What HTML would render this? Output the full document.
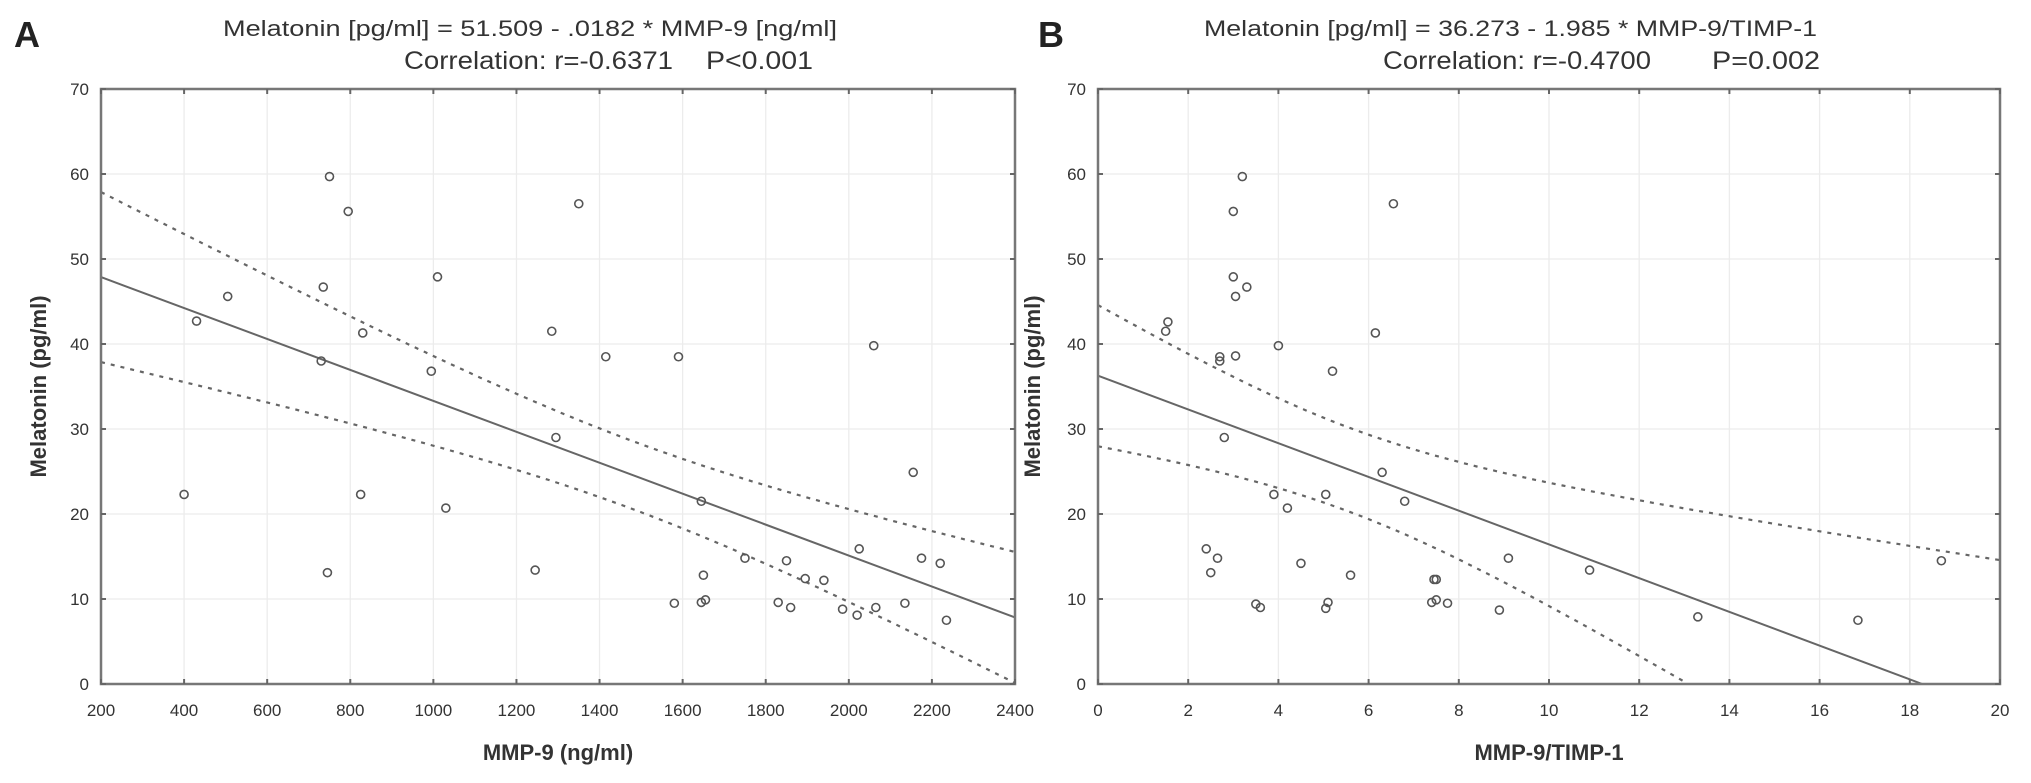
<!DOCTYPE html>
<html><head><meta charset="utf-8"><style>
html,body{margin:0;padding:0;background:#fff;}
svg{display:block;font-family:"Liberation Sans",Arial,sans-serif;}
</style></head><body>
<svg id="chart" width="2031" height="783" viewBox="0 0 2031 783">
<g id="pa"></g>
<g id="pb"></g>
</svg>
<script>
// Panel A data
const aX = [400,430,505,730,735,745,750,795,825,830,995,1010,1030,1245,1285,1295,1350,1415,1580,1590,1645,1645,1650,1655,1750,1830,1850,1860,1895,1940,1985,2020,2025,2060,2065,2135,2155,2175,2220,2235];
const aY = [22.3,42.7,45.6,38,46.7,13.1,59.7,55.6,22.3,41.3,36.8,47.9,20.7,13.4,41.5,29,56.5,38.5,9.5,38.5,9.6,21.5,12.8,9.9,14.8,9.6,14.5,9,12.4,12.2,8.8,8.1,15.9,39.8,9,9.5,24.9,14.8,14.2,7.5];
const aFit = [51.509, -0.0182];
const aBand = [16, 5.13e-5, 1480]; // a, b, mean for CI half-width
const aXTicks = [200,400,600,800,1000,1200,1400,1600,1800,2000,2200,2400];
const yTicks = [0,10,20,30,40,50,60,70];
// Panel B data
const bX = [1.5,1.55,2.4,2.5,2.65,2.7,2.7,2.8,3.0,3.05,3.0,3.05,3.2,3.3,3.5,3.6,3.9,4.0,4.2,4.5,5.05,5.05,5.1,5.2,5.6,6.15,6.3,6.55,6.8,7.4,7.45,7.5,7.5,7.75,8.9,9.1,10.9,13.3,16.85,18.7];
const bY = [41.5,42.6,15.9,13.1,14.8,38,38.5,29,47.9,45.6,55.6,38.6,59.7,46.7,9.4,9,22.3,39.8,20.7,14.2,22.3,8.9,9.6,36.8,12.8,41.3,24.9,56.5,21.5,9.6,12.3,12.3,9.9,9.5,8.7,14.8,13.4,7.9,7.5,14.5];
const bFit = [36.273, -1.985];
const bBand = [24.4, 1.439, 5.57];
const bXTicks = [0,2,4,6,8,10,12,14,16,18,20];

const NS = "http://www.w3.org/2000/svg";
function mk(parent, tag, attrs, text){
  const e = document.createElementNS(NS, tag);
  for (const k in attrs) e.setAttribute(k, attrs[k]);
  if (text !== undefined) e.textContent = text;
  parent.appendChild(e);
  return e;
}
function panel(g, o){
  const L=o.left, R=o.right, T=89, B=684;
  const sx = v => L + (v - o.xmin)/(o.xmax - o.xmin)*(R-L);
  const sy = v => B - v/70*(B-T);
  o.xt.forEach(v=>{
    const l = mk(g,'line',{x1:sx(v),x2:sx(v),y1:T,y2:B,stroke:'#ececec','stroke-width':1.3});
    
    
  });
  yTicks.forEach(v=>{
    const l = mk(g,'line',{x1:L,x2:R,y1:sy(v),y2:sy(v),stroke:'#ececec','stroke-width':1.3});
    
    
  });
  const h = x => Math.sqrt(o.band[0] + o.band[1]*(x-o.band[2])**2);
  const fit = x => o.fit[0] + o.fit[1]*x;
  [1,-1].forEach(sg=>{
    let d='';
    for(let i=0;i<=200;i++){
      const x = o.xmin + (o.xmax-o.xmin)*i/200;
      const y = fit(x) + sg*h(x);
      if (y < 0) break;
      d += (d?'L':'M') + sx(x).toFixed(1)+','+sy(y).toFixed(1);
    }
    const p = mk(g,'path',{d:d,fill:'none',stroke:'#666','stroke-width':2.2,'stroke-dasharray':'4,6'});
    
    
  });
  let x2 = o.xmax;
  if (fit(x2) < 0) x2 = -o.fit[0]/o.fit[1];
  const rl = mk(g,'line',{x1:sx(o.xmin),y1:sy(fit(o.xmin)),x2:sx(x2),y2:sy(fit(x2)),stroke:'#666','stroke-width':2});
  
  
  o.px.forEach((v,i)=>{
    const c = mk(g,'circle',{cx:sx(v),cy:sy(o.py[i]),r:4,fill:'none',stroke:'#555','stroke-width':1.6});
    
    
  });
  const f = mk(g,'rect',{x:L,y:T,width:R-L,height:B-T,fill:'none',stroke:'#777','stroke-width':2.5});
  
  
  o.xt.forEach(v=>{
    mk(g,'line',{x1:sx(v),x2:sx(v),y1:B,y2:B-5,stroke:'#666','stroke-width':2});
    mk(g,'line',{x1:sx(v),x2:sx(v),y1:T,y2:T+5,stroke:'#666','stroke-width':2});
    const t = mk(g,'text',{x:sx(v),y:716,'font-size':17,'text-anchor':'middle',fill:'#333'},String(v));
    
    
  });
  yTicks.forEach(v=>{
    mk(g,'line',{x1:L,x2:L+5,y1:sy(v),y2:sy(v),stroke:'#666','stroke-width':2});
    mk(g,'line',{x1:R,x2:R-5,y1:sy(v),y2:sy(v),stroke:'#666','stroke-width':2});
    const t = mk(g,'text',{x:L-12,y:sy(v)+6,'font-size':17,'text-anchor':'end',fill:'#333'},String(v));
    
    
  });
  const xt = mk(g,'text',{x:(L+R)/2,y:760,'font-size':22,'font-weight':'bold','text-anchor':'middle',fill:'#333'},o.xtitle);
  
  
  const cy = (T+B)/2;
  const yt = mk(g,'text',{x:o.ytx,y:cy,'font-size':22,'font-weight':'bold','text-anchor':'middle',fill:'#333',transform:`rotate(-90 ${o.ytx} ${cy})`},'Melatonin (pg/ml)');
  
  
  const lb = mk(g,'text',{x:o.labx,y:47,'font-size':36,'font-weight':'bold',fill:'#222'},o.label);
  
  
  const e1 = mk(g,'text',{x:o.eq[0],y:36,'font-size':22,fill:'#333',textLength:o.eq[1],lengthAdjust:'spacingAndGlyphs'},o.eqText);
  
  
  const e2 = mk(g,'text',{x:o.c1[0],y:69,'font-size':25,fill:'#333',textLength:o.c1[1],lengthAdjust:'spacingAndGlyphs'},o.cor1);
  
  
  const e3 = mk(g,'text',{x:o.c2[0],y:69,'font-size':25,fill:'#333',textLength:o.c2[1],lengthAdjust:'spacingAndGlyphs'},o.cor2);
  
  
}
panel(document.getElementById('pa'),{left:101,right:1015,xmin:200,xmax:2400,xt:aXTicks,px:aX,py:aY,fit:aFit,band:aBand,
  xtitle:'MMP-9 (ng/ml)',ytx:46,label:'A',labx:14,eq:[223,614],eqText:'Melatonin  [pg/ml] = 51.509 - .0182  * MMP-9 [ng/ml]',
  c1:[404,269],c2:[706,107],cor1:'Correlation: r=-0.6371',cor2:'P<0.001'});
panel(document.getElementById('pb'),{left:1098,right:2000,xmin:0,xmax:20,xt:bXTicks,px:bX,py:bY,fit:bFit,band:bBand,
  xtitle:'MMP-9/TIMP-1',ytx:1040,label:'B',labx:1038,eq:[1204,613],eqText:'Melatonin  [pg/ml] = 36.273 - 1.985  * MMP-9/TIMP-1',
  c1:[1383,268],c2:[1712,108],cor1:'Correlation: r=-0.4700',cor2:'P=0.002'});
</script>
</body></html>
